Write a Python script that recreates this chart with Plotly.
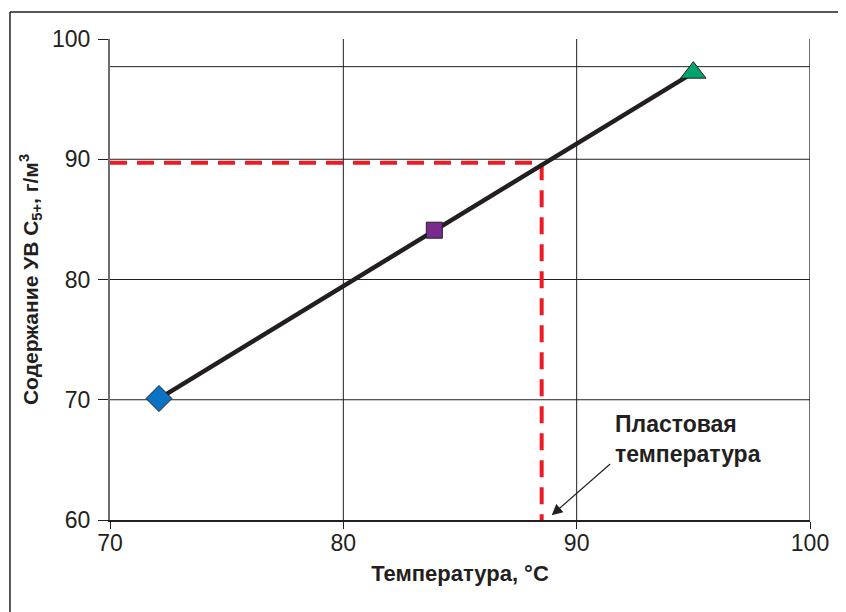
import plotly.graph_objects as go

# Data
temps = [72.1, 83.9, 95.0]            # °C
content = [70.1, 84.1, 97.2]          # г/м3
marker_symbols = ["diamond", "square", "triangle-up"]
marker_colors = ["#0b72c4", "#7a2a8e", "#00a36c"]
marker_sizes = [20, 16, 22]

formation_temp = 88.5
formation_content = 89.7

x_ticks = [70, 80, 90, 100]
y_ticks = [60, 70, 80, 90, 100]
v_grid = [80, 90]
h_grid = [70, 80, 90, 97.7]

annot_text = "Пластовая<br>температура"
x_title = "Температура, °С"
y_title = "Содержание УВ С<sub>5+</sub>, г/м<sup>3</sup>"

FONT = "Liberation Sans, Arial, sans-serif"
TXT = "#231f20"

fig = go.Figure()

# red dashed guide lines
fig.add_trace(go.Scatter(
    x=[70, formation_temp, formation_temp], y=[formation_content, formation_content, 60],
    mode="lines", line=dict(color="#ec1c24", width=4, dash="17px,10px"),
    hoverinfo="skip", showlegend=False, cliponaxis=False))

# black regression line
fig.add_trace(go.Scatter(
    x=[temps[0], temps[-1]], y=[content[0], content[-1]],
    mode="lines", line=dict(color="#231f20", width=4.5),
    hoverinfo="skip", showlegend=False))

# markers
for xv, yv, s, c, sz in zip(temps, content, marker_symbols, marker_colors, marker_sizes):
    fig.add_trace(go.Scatter(
        x=[xv], y=[yv], mode="markers",
        marker=dict(symbol=s, color=c, size=sz, line=dict(color="#231f20", width=1)),
        showlegend=False, cliponaxis=False))

shapes = []
for v in v_grid:
    shapes.append(dict(type="line", xref="x", yref="y", x0=v, x1=v, y0=60, y1=100,
                       line=dict(color="#231f20", width=1), layer="below"))
shapes.append(dict(type="line", xref="x", yref="y", x0=100, x1=100, y0=60, y1=100,
                   line=dict(color="#6d6e71", width=2), layer="below"))
for h in h_grid:
    shapes.append(dict(type="line", xref="x", yref="y", x0=70, x1=100, y0=h, y1=h,
                       line=dict(color="#231f20", width=1), layer="below"))
# outer frame (top and left)
shapes.append(dict(type="line", xref="paper", yref="paper", x0=-0.1429, x1=1.06, y0=1.056, y1=1.056,
                   line=dict(color="#231f20", width=1.5)))
shapes.append(dict(type="line", xref="paper", yref="paper", x0=-0.1429, x1=-0.1429, y0=1.056, y1=-0.2,
                   line=dict(color="#231f20", width=1.5)))

fig.update_layout(
    width=846, height=612,
    margin=dict(l=102, r=44, t=31, b=100),
    paper_bgcolor="white", plot_bgcolor="white",
    font=dict(family=FONT, color=TXT, size=23),
    shapes=shapes,
    showlegend=False,
    xaxis=dict(range=[70, 100], tickvals=x_ticks, showgrid=False, zeroline=False,
               showline=True, linecolor="#231f20", linewidth=1.5,
               ticks="outside", ticklen=7, tickcolor="#231f20", tickwidth=1,
               ticklabelstandoff=-5,
               tickfont=dict(size=23, color=TXT),
               title=dict(text="<b>" + x_title + "</b>", font=dict(size=22, color=TXT), standoff=10)),
    yaxis=dict(range=[60, 100], tickvals=y_ticks, showgrid=False, zeroline=False,
               showline=True, linecolor="#6d6e71", linewidth=2,
               ticks="outside", ticklen=10, tickcolor="#231f20", tickwidth=1,
               ticklabelstandoff=3,
               tickfont=dict(size=23, color=TXT),
               title=dict(text="<b>" + y_title + "</b>", font=dict(size=21, color=TXT), standoff=8)),
    annotations=[
        dict(x=88.93, y=60.4, ax=91.5, ay=64.76, xref="x", yref="y", axref="x", ayref="y",
             text="", showarrow=True, arrowhead=2, arrowsize=1.8, arrowwidth=1.2, arrowcolor="#231f20"),
        dict(x=91.56, y=69.2, xref="x", yref="y", xanchor="left", yanchor="top", align="left",
             text="<b>" + annot_text + "</b>", showarrow=False, font=dict(size=23, color=TXT)),
    ],
)

fig.write_html("out.html")
